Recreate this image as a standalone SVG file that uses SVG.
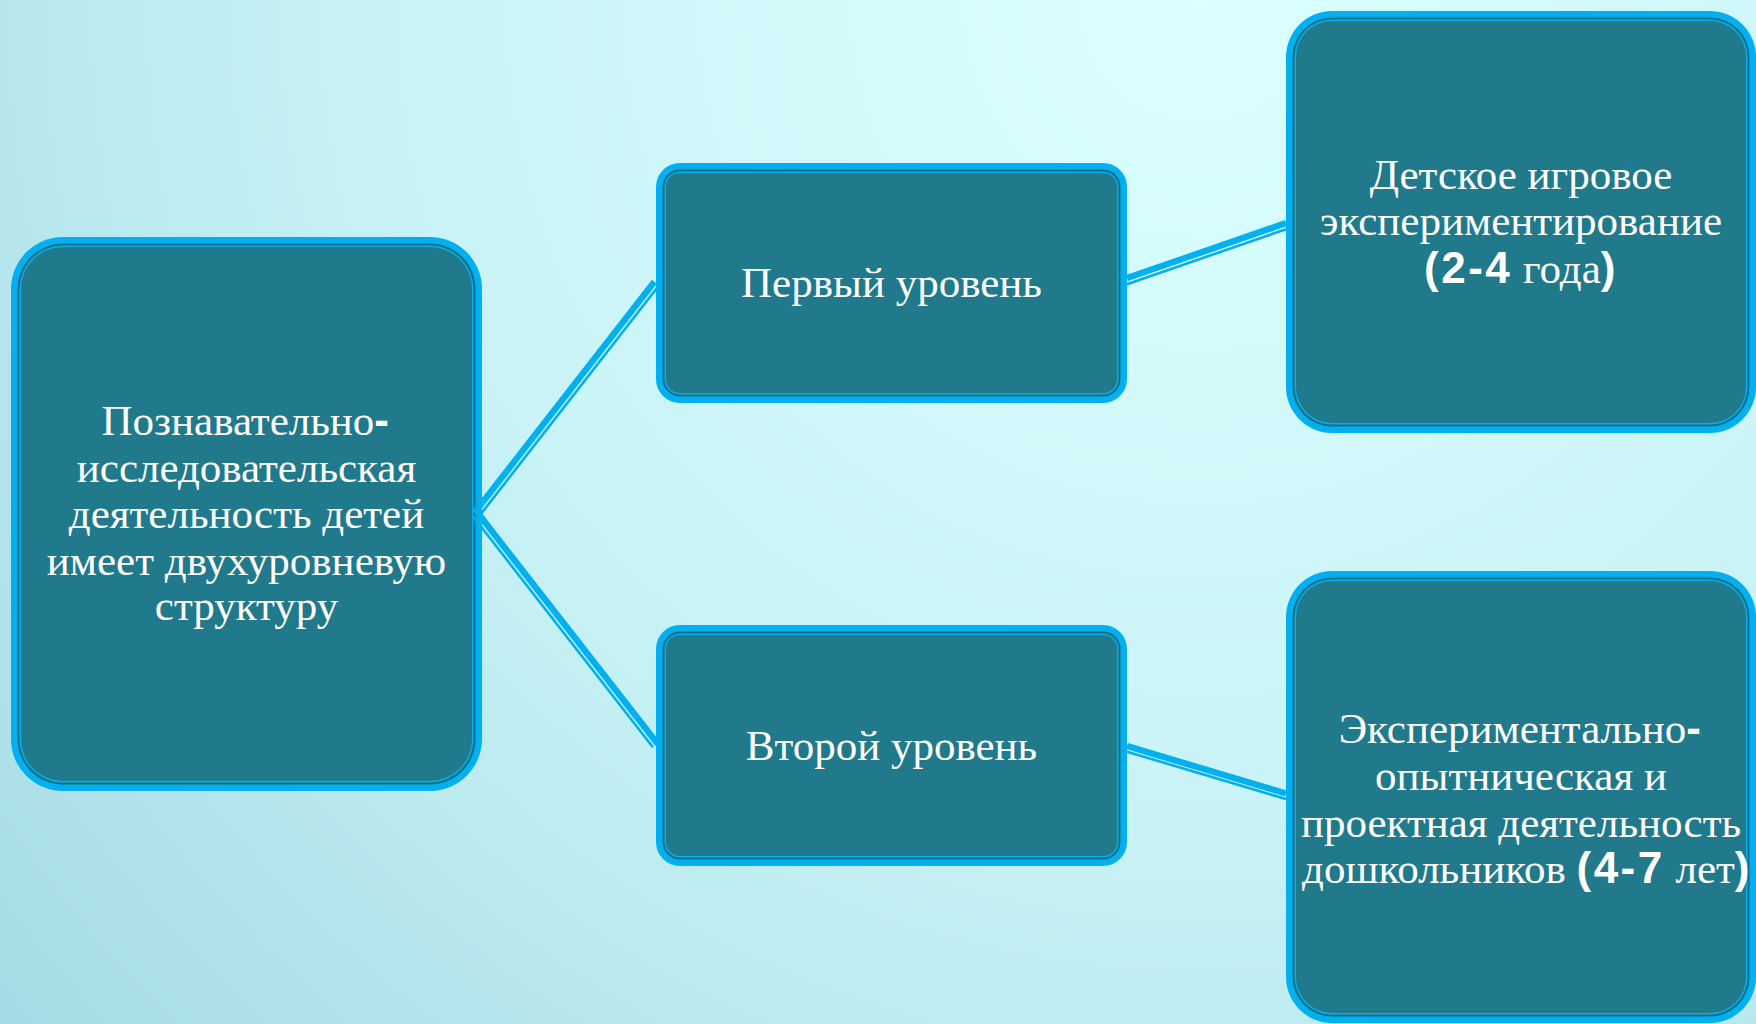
<svg xmlns="http://www.w3.org/2000/svg" width="1756" height="1024" viewBox="0 0 1756 1024">
<defs>
<radialGradient id="bg" gradientUnits="userSpaceOnUse" cx="1200" cy="0" r="1600">
<stop offset="0" stop-color="#dcffff"/>
<stop offset="0.5" stop-color="#c9f3f6"/>
<stop offset="1" stop-color="#a4dae4"/>
</radialGradient>
</defs>
<style>
.o{fill:#00b0f0}
.d{fill:#1c6c81}
.f{fill:#21798c}
.t{font-family:"Liberation Serif","Times New Roman",serif;font-size:43px;fill:#ffffff;text-anchor:middle}
.b{font-family:"Liberation Sans",Arial,sans-serif;font-weight:bold;font-size:44px;letter-spacing:2.5px}
.thick{stroke:#00b0f0;stroke-width:6.3;fill:none}
.thin{stroke:#00b0f0;stroke-width:2.6;fill:none}
</style>
<rect x="0" y="0" width="1756" height="1024" fill="url(#bg)"/>

<g id="n0">
<rect class="o" x="11" y="237" width="471" height="554" rx="52"/>
<rect class="d" x="17.5" y="243.5" width="458" height="541" rx="45.5"/>
<rect class="o" x="19.5" y="245.5" width="454" height="537" rx="43.5"/>
<rect class="f" x="21" y="247" width="451" height="534" rx="42"/>
<text class="t" x="246.5" y="435">Познавательно<tspan class="b">-</tspan></text>
<text class="t" x="246.5" y="482">исследовательская</text>
<text class="t" x="246.5" y="528">деятельность детей</text>
<text class="t" x="246.5" y="575">имеет двухуровневую</text>
<text class="t" x="246.5" y="620">структуру</text>
</g>

<g id="n1">
<rect class="o" x="656" y="163" width="471" height="240" rx="24"/>
<rect class="d" x="662.5" y="169.5" width="458" height="227" rx="17.5"/>
<rect class="o" x="664.5" y="171.5" width="454" height="223" rx="15.5"/>
<rect class="f" x="666" y="173" width="451" height="220" rx="14"/>
<text class="t" x="891.5" y="297">Первый уровень</text>
</g>

<g id="n2">
<rect class="o" x="656" y="625" width="471" height="241" rx="24"/>
<rect class="d" x="662.5" y="631.5" width="458" height="228" rx="17.5"/>
<rect class="o" x="664.5" y="633.5" width="454" height="224" rx="15.5"/>
<rect class="f" x="666" y="635" width="451" height="221" rx="14"/>
<text class="t" x="891.5" y="760">Второй уровень</text>
</g>

<g id="n3">
<rect class="o" x="1286" y="11" width="470" height="422" rx="46"/>
<rect class="d" x="1292.5" y="17.5" width="457" height="409" rx="39.5"/>
<rect class="o" x="1294.5" y="19.5" width="453" height="405" rx="37.5"/>
<rect class="f" x="1296" y="21" width="450" height="402" rx="36"/>
<text class="t" x="1521" y="189">Детское игровое</text>
<text class="t" x="1521" y="235">экспериментирование</text>
<text class="t" x="1521" y="283"><tspan class="b">(2-4</tspan> года<tspan class="b">)</tspan></text>
</g>

<g id="n4">
<rect class="o" x="1286" y="571" width="470" height="452" rx="46"/>
<rect class="d" x="1292.5" y="577.5" width="457" height="439" rx="39.5"/>
<rect class="o" x="1294.5" y="579.5" width="453" height="435" rx="37.5"/>
<rect class="f" x="1296" y="581" width="450" height="432" rx="36"/>
<text class="t" x="1521" y="743">Экспериментально<tspan class="b">-</tspan></text>
<text class="t" x="1521" y="790">опытническая и</text>
<text class="t" x="1521" y="837">проектная деятельность</text>
<text class="t" x="1527" y="883">дошкольников <tspan class="b">(4-7</tspan> лет<tspan class="b">)</tspan></text>
</g>

<g id="connectors">
<line class="thick" x1="474.4" y1="512.8" x2="654.4" y2="281.8"/>
<line class="thin" x1="479.1" y1="516.3" x2="659.1" y2="285.3"/>
<line class="thick" x1="477.6" y1="512.8" x2="657.6" y2="743.8"/>
<line class="thin" x1="472.9" y1="516.3" x2="652.9" y2="747.3"/>
<line class="thick" x1="1127" y1="278.1" x2="1286" y2="223.1"/>
<line class="thin" x1="1127" y1="284.2" x2="1286" y2="229.2"/>
<line class="thick" x1="1127" y1="746.1" x2="1286" y2="793.5"/>
<line class="thin" x1="1127" y1="751.7" x2="1286" y2="799.1"/>
</g>
</svg>
